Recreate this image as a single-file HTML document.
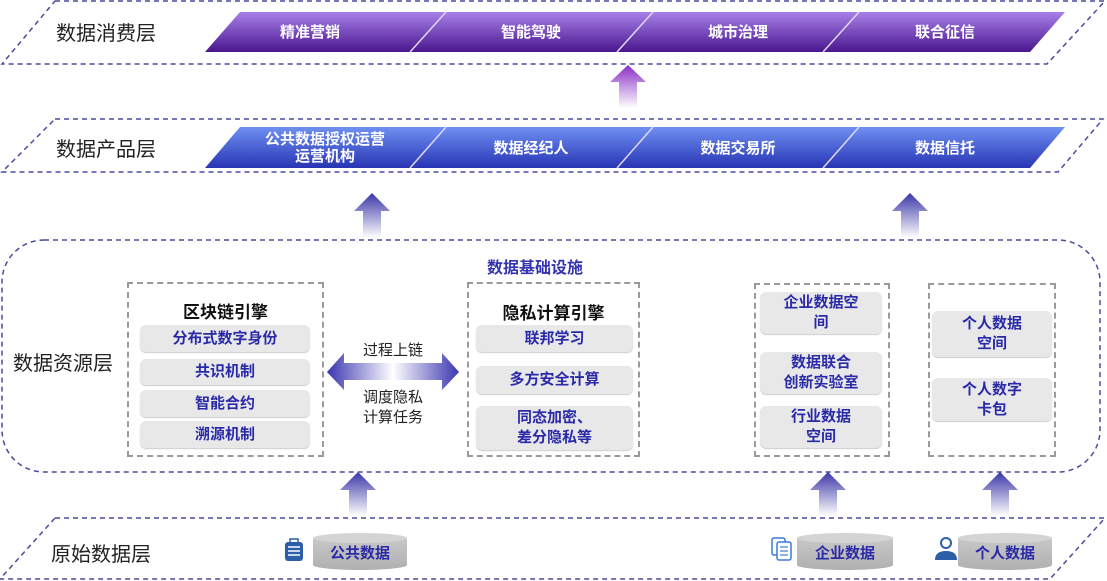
<!DOCTYPE html>
<html><head><meta charset="utf-8"><style>
html,body{margin:0;padding:0;background:#fff;}
body{width:1107px;height:581px;position:relative;overflow:hidden;font-family:"Liberation Sans","Noto Sans CJK SC",sans-serif;}
.t{position:absolute;white-space:nowrap;}
.lay{font-size:20px;color:#222;}
.w{color:#fff;font-weight:bold;font-size:15px;text-align:center;line-height:17px;}
.pill{position:absolute;background:#e8e8e8;border-radius:6px;box-shadow:0 1px 1px #ccc;color:#2a2aa8;font-weight:bold;font-size:15px;text-align:center;display:flex;align-items:center;justify-content:center;line-height:20px;}
.box{position:absolute;border:2px dashed #9a9a9a;}
.hd{font-weight:bold;font-size:17px;color:#111;text-align:center;}
</style></head><body>
<svg width="1107" height="581" style="position:absolute;left:0;top:0">
<defs>
<linearGradient id="gp" x1="0" y1="0" x2="0" y2="1"><stop offset="0" stop-color="#a880e8"/><stop offset="1" stop-color="#4a168e"/></linearGradient>
<linearGradient id="gb" x1="0" y1="0" x2="0" y2="1"><stop offset="0" stop-color="#6e90f2"/><stop offset="1" stop-color="#2834b4"/></linearGradient>
<linearGradient id="ap" x1="0" y1="0" x2="0" y2="1"><stop offset="0" stop-color="#8a2ec4"/><stop offset="1" stop-color="#ffffff"/></linearGradient>
<linearGradient id="ab" x1="0" y1="0" x2="0" y2="1"><stop offset="0" stop-color="#3a36a8"/><stop offset="1" stop-color="#ffffff"/></linearGradient>
<linearGradient id="dh" x1="0" y1="0" x2="1" y2="0"><stop offset="0" stop-color="#3a36b0"/><stop offset="0.5" stop-color="#ffffff"/><stop offset="1" stop-color="#3a36b0"/></linearGradient>
<linearGradient id="cy" x1="0" y1="0" x2="0" y2="1"><stop offset="0" stop-color="#c8c8c8"/><stop offset="1" stop-color="#b0b0b0"/></linearGradient>
</defs>
<g fill="none" stroke="#4a4aa0" stroke-width="1.5" stroke-dasharray="5,4">
<polygon points="55,1 1105,1 1047,64 2,64"/>
<polygon points="55,119 1103,119 1058,172 2,172"/>
<rect x="2" y="240" width="1098" height="232" rx="42"/>
<polygon points="55,518 1105,518 1050,579 0,579"/>
</g>
<polygon points="240,12 1065,12 1030,52 205,52" fill="url(#gp)"/>
<polygon points="240,127 1065,127 1030,168 205,168" fill="url(#gb)"/>
<g stroke="#e0d8f5" stroke-width="1.5">
<line x1="410" y1="52" x2="446" y2="12"/><line x1="617" y1="52" x2="653" y2="12"/><line x1="823" y1="52" x2="859" y2="12"/>
<line x1="410" y1="168" x2="446" y2="127"/><line x1="617" y1="168" x2="653" y2="127"/><line x1="823" y1="168" x2="859" y2="127"/>
</g>
<polygon points="628,65 646,82 637,82 637,108 619,108 619,82 610,82" fill="url(#ap)"/>
<g fill="url(#ab)">
<polygon points="372,193 390,211 381,211 381,238 363,238 363,211 354,211"/>
<polygon points="910,193 928,211 919,211 919,238 901,238 901,211 892,211"/>
<polygon points="358,472 376,490 367,490 367,516 349,516 349,490 340,490"/>
<polygon points="828,472 846,490 837,490 837,516 819,516 819,490 810,490"/>
<polygon points="1000,472 1018,490 1009,490 1009,516 991,516 991,490 982,490"/>
</g>
<polygon points="327,372 344,353 344,363 442,363 442,353 459,372 442,390 442,380 344,380 344,390" fill="url(#dh)"/>
<g>
<path d="M313,538 v27 a47,5 0 0 0 94,0 v-27 z" fill="url(#cy)"/><ellipse cx="360" cy="538" rx="47" ry="5" fill="#d4d4d4"/>
<path d="M797,538 v27 a48,5 0 0 0 96,0 v-27 z" fill="url(#cy)"/><ellipse cx="845" cy="538" rx="48" ry="5" fill="#d4d4d4"/>
<path d="M958,538 v27 a47,5 0 0 0 94,0 v-27 z" fill="url(#cy)"/><ellipse cx="1005" cy="538" rx="47" ry="5" fill="#d4d4d4"/>
</g>
<rect x="285" y="542" width="18" height="19" rx="3" fill="#2d5ea8"/><rect x="290" y="539" width="8" height="4" fill="none" stroke="#2d5ea8" stroke-width="1.5"/>
<g stroke="#fff" stroke-width="1.5"><line x1="288" y1="547" x2="300" y2="547"/><line x1="288" y1="551" x2="300" y2="551"/><line x1="288" y1="555" x2="300" y2="555"/></g>
<rect x="772" y="538" width="13" height="17" rx="2" fill="none" stroke="#3a7ad8" stroke-width="1.5"/><rect x="777" y="542" width="14" height="18" rx="2" fill="#fff" stroke="#3a7ad8" stroke-width="1.5"/>
<g stroke="#3a7ad8" stroke-width="1.2"><line x1="780" y1="547" x2="788" y2="547"/><line x1="780" y1="551" x2="788" y2="551"/><line x1="780" y1="555" x2="788" y2="555"/></g>
<circle cx="946" cy="543" r="5" fill="#fff" stroke="#2d5ea8" stroke-width="2"/><path d="M935,560 q0,-9 11,-9 q11,0 11,9 z" fill="#2d5ea8"/>
</svg>
<div class="t lay" style="left:56px;top:17px">数据消费层</div>
<div class="t lay" style="left:56px;top:133px">数据产品层</div>
<div class="t lay" style="left:13px;top:347px">数据资源层</div>
<div class="t lay" style="left:51px;top:538px">原始数据层</div>
<div class="t w" style="left:260px;top:24px;width:100px">精准营销</div>
<div class="t w" style="left:481px;top:24px;width:100px">智能驾驶</div>
<div class="t w" style="left:688px;top:24px;width:100px">城市治理</div>
<div class="t w" style="left:895px;top:24px;width:100px">联合征信</div>
<div class="t w" style="left:245px;top:131px;width:160px">公共数据授权运营<br>运营机构</div>
<div class="t w" style="left:481px;top:140px;width:100px">数据经纪人</div>
<div class="t w" style="left:688px;top:140px;width:100px">数据交易所</div>
<div class="t w" style="left:895px;top:140px;width:100px">数据信托</div>
<div class="t" style="left:487px;top:254px;font-size:16px;font-weight:bold;color:#3434b0">数据基础设施</div>
<div class="box" style="left:127px;top:282px;width:193px;height:171px"></div>
<div class="box" style="left:467px;top:282px;width:169px;height:171px"></div>
<div class="box" style="left:754px;top:283px;width:132px;height:170px"></div>
<div class="box" style="left:928px;top:283px;width:124px;height:170px"></div>
<div class="t hd" style="left:127px;top:298px;width:197px">区块链引擎</div>
<div class="t hd" style="left:467px;top:299px;width:173px">隐私计算引擎</div>
<div class="pill" style="left:140px;top:325px;width:170px;height:27px">分布式数字身份</div>
<div class="pill" style="left:140px;top:359px;width:170px;height:26px">共识机制</div>
<div class="pill" style="left:140px;top:390px;width:170px;height:27px">智能合约</div>
<div class="pill" style="left:140px;top:421px;width:170px;height:27px">溯源机制</div>
<div class="pill" style="left:476px;top:325px;width:157px;height:27px">联邦学习</div>
<div class="pill" style="left:476px;top:366px;width:157px;height:28px">多方安全计算</div>
<div class="pill" style="left:476px;top:406px;width:157px;height:44px">同态加密、<br>差分隐私等</div>
<div class="pill" style="left:760px;top:292px;width:122px;height:42px">企业数据空<br>间</div>
<div class="pill" style="left:760px;top:352px;width:122px;height:42px">数据联合<br>创新实验室</div>
<div class="pill" style="left:760px;top:406px;width:122px;height:42px">行业数据<br>空间</div>
<div class="pill" style="left:932px;top:311px;width:120px;height:46px">个人数据<br>空间</div>
<div class="pill" style="left:932px;top:378px;width:120px;height:43px">个人数字<br>卡包</div>
<div class="t" style="left:327px;top:339px;width:132px;text-align:center;font-size:15px;color:#222">过程上链</div>
<div class="t" style="left:327px;top:388px;width:132px;text-align:center;font-size:15px;color:#222;line-height:20px">调度隐私<br>计算任务</div>
<div class="t" style="left:313px;top:542px;width:94px;text-align:center;font-size:15px;font-weight:bold;color:#2a2aa8">公共数据</div>
<div class="t" style="left:797px;top:542px;width:96px;text-align:center;font-size:15px;font-weight:bold;color:#2a2aa8">企业数据</div>
<div class="t" style="left:958px;top:542px;width:94px;text-align:center;font-size:15px;font-weight:bold;color:#2a2aa8">个人数据</div>
</body></html>
